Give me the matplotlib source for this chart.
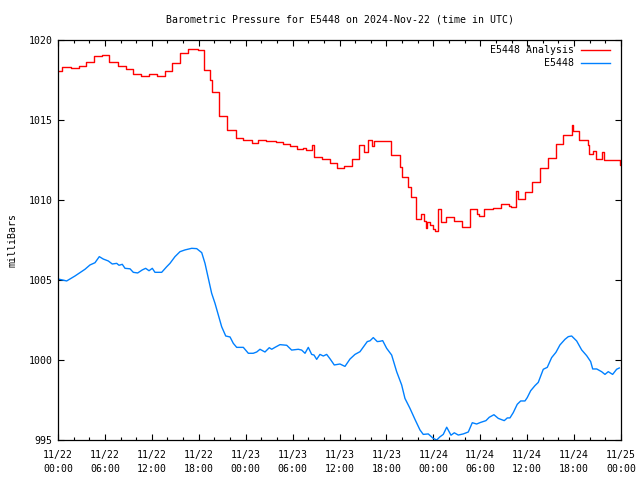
import matplotlib
matplotlib.use("Agg")
import matplotlib.pyplot as plt

# ---- data (hours since 2024-11-22 00:00 UTC) ----
analysis_hours = [0.0, 0.51, 1.66, 2.69, 3.54, 4.6, 5.59, 6.56, 7.71, 8.66, 9.55, 10.61,
                  11.68, 12.7, 13.68, 14.54, 15.6, 16.66, 17.86, 18.73, 19.5, 19.7, 20.65,
                  21.67, 22.7, 23.72, 24.77, 25.61, 26.6, 27.88, 28.73, 29.67, 30.6, 31.33,
                  31.67, 32.54, 32.74, 33.8, 34.78, 35.72, 36.61, 37.56, 38.53, 39.13, 39.64,
                  40.15, 40.45, 42.65, 43.73, 43.95, 44.8, 45.14, 45.72, 46.48, 46.8, 47.02,
                  47.19, 47.57, 47.95, 48.21, 48.66, 48.98, 49.68, 50.7, 51.73, 52.69, 53.58,
                  53.87, 54.54, 55.63, 56.71, 57.74, 57.93, 58.63, 58.89, 59.72, 60.68, 61.7,
                  62.72, 63.68, 64.64, 65.67, 65.92, 66.69, 67.77, 67.96, 68.41, 68.8, 69.57,
                  69.82, 71.55, 71.87, 72.0]
analysis_mb = [1018.06, 1018.29, 1018.23, 1018.35, 1018.6, 1019.0, 1019.06, 1018.62, 1018.37,
               1018.17, 1017.9, 1017.75, 1017.87, 1017.75, 1018.06, 1018.54, 1019.17, 1019.42,
               1019.37, 1018.12, 1017.5, 1016.73, 1015.25, 1014.37, 1013.87, 1013.75, 1013.54,
               1013.73, 1013.67, 1013.6, 1013.48, 1013.35, 1013.2, 1013.28, 1013.12, 1013.43,
               1012.67, 1012.54, 1012.29, 1011.98, 1012.12, 1012.54, 1013.43, 1012.98, 1013.75,
               1013.37, 1013.7, 1012.8, 1012.08, 1011.46, 1010.83, 1010.2, 1008.81, 1009.12,
               1008.7, 1008.27, 1008.6, 1008.44, 1008.2, 1008.06, 1009.42, 1008.65, 1008.92,
               1008.69, 1008.29, 1009.42, 1009.15, 1009.0, 1009.42, 1009.48, 1009.73, 1009.62,
               1009.54, 1010.56, 1010.04, 1010.52, 1011.1, 1011.98, 1012.6, 1013.5, 1014.06,
               1014.69, 1014.33, 1013.75, 1013.43, 1012.87, 1013.08, 1012.56, 1013.02, 1012.5,
               1012.5, 1012.19, 1012.19]

station_hours = [0.04, 1.11, 2.17, 2.81, 3.45, 4.09, 4.73, 5.28, 5.79, 6.43, 6.94, 7.51, 7.8,
                 8.22, 8.57, 9.21, 9.63, 10.19, 10.78, 11.21, 11.64, 12.06, 12.4, 13.26, 13.9,
                 14.32, 14.96, 15.6, 16.24, 17.1, 17.74, 18.38, 18.8, 19.22, 19.65, 20.08,
                 20.5, 20.93, 21.45, 22.0, 22.42, 22.85, 23.7, 24.34, 24.97, 25.41, 25.83,
                 26.47, 27.02, 27.33, 27.75, 28.39, 29.25, 29.88, 30.73, 31.16, 31.59, 32.01,
                 32.44, 32.74, 33.08, 33.5, 33.93, 34.36, 34.78, 35.33, 36.06, 36.7, 37.34,
                 37.98, 38.62, 39.13, 39.55, 39.9, 40.32, 40.83, 41.18, 41.52, 42.03, 42.67,
                 43.31, 43.95, 44.37, 45.01, 45.65, 46.29, 46.71, 47.35, 47.99, 48.43, 48.85,
                 49.27, 49.71, 50.26, 50.68, 51.19, 51.83, 52.47, 52.98, 53.54, 54.05, 54.73,
                 55.15, 55.75, 56.31, 57.07, 57.46, 57.8, 58.22, 58.73, 59.17, 59.72, 60.01,
                 60.45, 61.0, 61.42, 62.06, 62.57, 63.13, 63.68, 64.19, 64.83, 65.26, 65.69,
                 66.33, 66.97, 67.61, 68.12, 68.38, 68.89, 69.52, 69.95, 70.37, 70.93, 71.44,
                 71.78]
station_mb = [1005.06, 1004.94, 1005.25, 1005.46, 1005.67, 1005.94, 1006.08, 1006.46, 1006.31,
              1006.19, 1006.0, 1006.04, 1005.92, 1005.98, 1005.73, 1005.7, 1005.48, 1005.44,
              1005.63, 1005.73, 1005.58, 1005.73, 1005.48, 1005.48, 1005.83, 1006.04, 1006.46,
              1006.77, 1006.88, 1006.98, 1006.96, 1006.71, 1006.04, 1005.1, 1004.17, 1003.54,
              1002.81, 1002.08, 1001.5, 1001.44, 1001.04, 1000.79, 1000.79, 1000.42, 1000.42,
              1000.5, 1000.67, 1000.5, 1000.77, 1000.67, 1000.79, 1000.96, 1000.92, 1000.62,
              1000.67, 1000.62, 1000.42, 1000.79, 1000.35, 1000.31, 1000.04, 1000.35, 1000.25,
              1000.35, 1000.08, 999.69, 999.75, 999.6, 1000.06, 1000.35, 1000.52, 1000.87,
              1001.15, 1001.2, 1001.4, 1001.15, 1001.17, 1001.21, 1000.73, 1000.31, 999.27,
              998.44, 997.6, 996.98, 996.29, 995.63, 995.35, 995.38, 995.1, 995.0, 995.2,
              995.35, 995.8, 995.3, 995.45, 995.31, 995.38, 995.5, 996.08, 996.0, 996.1,
              996.21, 996.42, 996.58, 996.35, 996.21, 996.38, 996.38, 996.71, 997.23, 997.44,
              997.44, 997.65, 998.08, 998.4, 998.6, 999.42, 999.54, 1000.15, 1000.48, 1000.94,
              1001.29, 1001.46, 1001.5, 1001.19, 1000.63, 1000.27, 999.9, 999.44, 999.44,
              999.27, 999.1, 999.27, 999.1, 999.42, 999.5]

xtick_hours = [0, 6, 12, 18, 24, 30, 36, 42, 48, 54, 60, 66, 72]
xtick_labels = ["11/22\n00:00", "11/22\n06:00", "11/22\n12:00", "11/22\n18:00",
                "11/23\n00:00", "11/23\n06:00", "11/23\n12:00", "11/23\n18:00",
                "11/24\n00:00", "11/24\n06:00", "11/24\n12:00", "11/24\n18:00",
                "11/25\n00:00"]
ytick_values = [995, 1000, 1005, 1010, 1015, 1020]

title = "Barometric Pressure for E5448 on 2024-Nov-22 (time in UTC)"
label_analysis = "E5448 Analysis"
label_station = "E5448"

# ---- style ----
FONT = "DejaVu Sans Mono"
FS = 7.1
RED = "#ff0000"
BLUE = "#0080ff"

fig = plt.figure(figsize=(6.4, 4.8), dpi=100)
ax = fig.add_axes([58 / 640, 1 - 440 / 480, (621 - 58) / 640, 400 / 480])

ax.plot(analysis_hours, analysis_mb, color=RED, lw=1.0, drawstyle="steps-post")
ax.plot(station_hours, station_mb, color=BLUE, lw=1.0)

ax.set_xlim(0, 72)
ax.set_ylim(995, 1020)

ax.set_xticks(xtick_hours)
ax.set_xticklabels(xtick_labels, fontfamily=FONT, fontsize=FS, linespacing=1.5)
ax.set_xticks(list(range(0, 73, 2)), minor=True)
ax.set_yticks(ytick_values)
ax.set_yticklabels([str(v) for v in ytick_values], fontfamily=FONT, fontsize=FS)

ax.tick_params(axis="both", which="major", direction="in", length=4, width=0.8,
               top=True, right=True, color="black")
ax.tick_params(axis="x", which="major", pad=7)
ax.tick_params(axis="y", which="major", pad=4)
ax.tick_params(axis="x", which="minor", direction="in", length=2.2, width=0.8,
               top=True, bottom=True)
for s in ax.spines.values():
    s.set_linewidth(0.9)
    s.set_color("black")

ax.set_ylabel("milliBars", fontfamily=FONT, fontsize=FS, labelpad=8)

fig.text(0.531, 1 - 20 / 480, title, ha="center", va="center",
         fontfamily=FONT, fontsize=FS)

# key (gnuplot style: right-aligned text then sample line)
key_rows = [(label_analysis, RED, 1 - 10 / 400), (label_station, BLUE, 1 - 23 / 400)]
for text, col, yk in key_rows:
    ax.text((574 - 58) / 563, yk, text, transform=ax.transAxes, ha="right", va="center",
            fontfamily=FONT, fontsize=FS)
    ax.plot([(581 - 58) / 563, (610 - 58) / 563], [yk, yk], transform=ax.transAxes,
            color=col, lw=1.0, clip_on=False)

fig.savefig("out.png", dpi=100)
